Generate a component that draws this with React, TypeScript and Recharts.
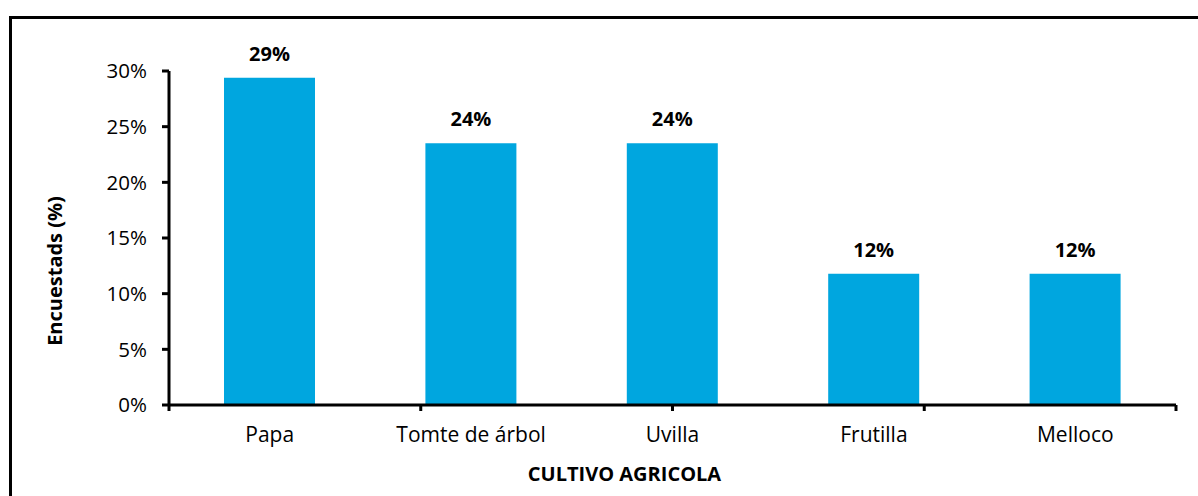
import React from "react";
import { BarChart, Bar, XAxis, YAxis, LabelList } from "recharts";

const cultivos = ["Papa", "Tomte de árbol", "Uvilla", "Frutilla", "Melloco"];
const encuestados = [0.294, 0.235, 0.235, 0.118, 0.118];
const yTicks = [0, 0.05, 0.1, 0.15, 0.2, 0.25, 0.3];
const edgeTicks = [0, 1, 2, 3, 4, 5];

const data = cultivos.map((name, i) => ({ name, value: encuestados[i] }));

const pct = (v: number) => `${Math.round(v * 100)}%`;

export default function App() {
  return (
    <div
      style={{
        position: "absolute",
        left: 0,
        top: 0,
        width: 1198,
        height: 496,
        overflow: "hidden",
        background: "#fff",
        fontFamily: "'Open Sans', sans-serif",
      }}
    >
      <div
        style={{
          position: "absolute",
          left: 9,
          top: 16,
          width: 1300,
          height: 600,
          border: "3px solid #000",
        }}
      />
      <div style={{ position: "absolute", left: 0, top: 0 }}>
        <BarChart
          width={1198}
          height={496}
          data={data}
          margin={{ top: 71, right: 22, left: 0, bottom: 0 }}
        >
          {/* category boundary ticks, sits right on the plot bottom */}
          <XAxis
            xAxisId="a_edges"
            type="number"
            domain={[0, 5]}
            ticks={edgeTicks}
            height={1}
            tickFormatter={() => ""}
            axisLine={{ stroke: "#000", strokeWidth: 3 }}
            tickLine={{ stroke: "#000", strokeWidth: 3 }}
            tickSize={6}
          />
          <XAxis
            xAxisId="b_cat"
            dataKey="name"
            height={90}
            axisLine={false}
            tickLine={false}
            tickSize={0}
            tickMargin={21}
            tick={{ fill: "#000", fontSize: 21 }}
            label={{
              value: "CULTIVO AGRICOLA",
              position: "insideBottom",
              offset: 15,
              dx: -48,
              fill: "#000",
              fontSize: 20,
              fontWeight: "bold",
            }}
          />
          <YAxis
            width={169}
            domain={[0, 0.3]}
            ticks={yTicks}
            tickFormatter={pct}
            axisLine={{ stroke: "#000", strokeWidth: 3 }}
            tickLine={{ stroke: "#000", strokeWidth: 3 }}
            tickSize={7}
            tickMargin={15}
            tick={{ fill: "#000", fontSize: 20.5 }}
            label={{
              value: "Encuestads (%)",
              angle: -90,
              position: "center",
              dx: -30,
              dy: 33,
              fill: "#000",
              fontSize: 20,
              fontWeight: "bold",
            }}
          />
          <Bar
            xAxisId="b_cat"
            dataKey="value"
            fill="#00A6DF"
            barSize={91}
            isAnimationActive={false}
          >
            <LabelList
              dataKey="value"
              position="top"
              offset={17}
              formatter={(v: any) => pct(Number(v))}
              style={{ fill: "#000", fontSize: 20, fontWeight: "bold" }}
            />
          </Bar>
        </BarChart>
      </div>
    </div>
  );
}
